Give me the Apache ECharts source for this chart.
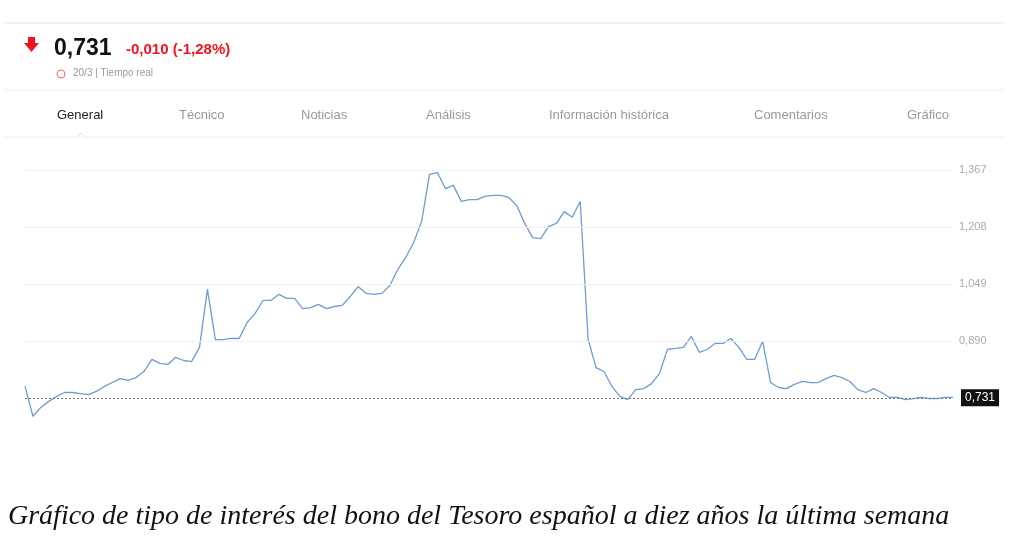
<!DOCTYPE html>
<html><head><meta charset="utf-8">
<script src="https://cdn.jsdelivr.net/npm/echarts@6/dist/echarts.min.js"></script>
<style>html,body{margin:0;padding:0;background:#fff}#c{width:1028px;height:540px}</style>
</head><body><div id="c"></div>
<script>
const values = [0.763,0.678,0.703,0.720,0.734,0.745,0.745,0.742,0.739,0.748,0.762,0.773,0.784,0.779,0.787,0.804,0.838,0.827,0.824,0.844,0.835,0.832,0.872,1.035,0.894,0.894,0.897,0.897,0.942,0.967,1.004,1.004,1.021,1.010,1.010,0.981,0.984,0.993,0.981,0.987,0.990,1.015,1.043,1.024,1.021,1.024,1.046,1.091,1.125,1.167,1.226,1.359,1.364,1.319,1.328,1.283,1.288,1.288,1.297,1.300,1.300,1.294,1.271,1.221,1.181,1.178,1.212,1.221,1.254,1.238,1.283,0.894,0.815,0.804,0.762,0.734,0.725,0.753,0.756,0.770,0.799,0.866,0.869,0.872,0.903,0.858,0.866,0.883,0.883,0.897,0.872,0.838,0.838,0.889,0.773,0.759,0.756,0.768,0.776,0.773,0.773,0.784,0.793,0.787,0.776,0.753,0.745,0.756,0.745,0.731,0.731,0.725,0.728,0.731,0.728,0.728,0.731,0.731];
const categories = values.map((_, i) => String(i));
const tickLabels = [0.890, 1.049, 1.208, 1.367];
const lastValue = 0.731;
const tabs = ['General','Técnico','Noticias','Análisis','Información histórica','Comentarios','Gráfico'];
const tabX = [57,179,301,426,549,754,907];

const chart = echarts.init(document.getElementById('c'));
const g = [];
g.push({type:'line',shape:{x1:4,y1:23,x2:1004,y2:23},style:{stroke:'#e6e6e6',lineWidth:1}});
g.push({type:'polygon',shape:{points:[[24,43],[28,43],[28,37],[35,37],[35,43],[39,43],[31.5,52]]},style:{fill:'#f0141e'}});
g.push({type:'text',x:54,y:37,style:{text:'0,731',font:'bold 23px "Liberation Sans", Arial',fill:'#111'}});
g.push({type:'text',x:126,y:42,style:{text:'-0,010 (-1,28%)',font:'bold 15px "Liberation Sans", Arial',fill:'#f0141e'}});
g.push({type:'circle',shape:{cx:61,cy:74,r:4},style:{fill:'none',stroke:'#f06a6a',lineWidth:1}});
g.push({type:'text',x:73,y:68,style:{text:'20/3 | Tiempo real',font:'10px "Liberation Sans", Arial',fill:'#999'}});
g.push({type:'line',shape:{x1:4,y1:90,x2:1004,y2:90},style:{stroke:'#eeeeee',lineWidth:1}});
tabs.forEach((t,i)=>g.push({type:'text',x:tabX[i],y:109,style:{text:t,font:(i===0?'500 ':'')+'13px "Liberation Sans", Arial',fill:i===0?'#222':'#999'}}));
g.push({type:'line',shape:{x1:4,y1:137,x2:1004,y2:137},style:{stroke:'#eeeeee',lineWidth:1}});
g.push({type:'polyline',shape:{points:[[77,137],[81,133],[85,137]]},style:{stroke:'#ddd',fill:'#fff',lineWidth:1}});
g.push({type:'text',x:8,y:503,style:{text:'Gráfico de tipo de interés del bono del Tesoro español a diez años la última semana',font:'italic 28px "Liberation Serif", "DejaVu Serif", serif',fill:'#111'}});

chart.setOption({
  animation:false,
  graphic:g,
  grid:{left:25,right:75,top:142,height:302},
  xAxis:{type:'category',data:categories,boundaryGap:false,show:false},
  yAxis:{type:'value',min:0.6,max:1.45,show:false,splitLine:{show:false}},
  series:[{type:'line',data:values,symbol:'none',lineStyle:{color:'#6f9bd1',width:1.3},
    markLine:{silent:true,symbol:'none',data:[
      ...tickLabels.map(v=>({yAxis:v,lineStyle:{color:'#eef0f5',type:'solid',width:1},
        label:{position:'end',distance:6,formatter:v.toFixed(3).replace('.',','),color:'#aaa',fontSize:11,fontFamily:'Liberation Sans',padding:[4,0,0,0]}})),
      {yAxis:lastValue,lineStyle:{color:'#777',type:[2,2],width:1},
        label:{position:'end',distance:8,formatter:lastValue.toFixed(3).replace('.',','),color:'#fff',backgroundColor:'#111',padding:[3,4,2,4],fontSize:12,fontFamily:'Liberation Sans'}}
    ]}}]
});
</script></body></html>
